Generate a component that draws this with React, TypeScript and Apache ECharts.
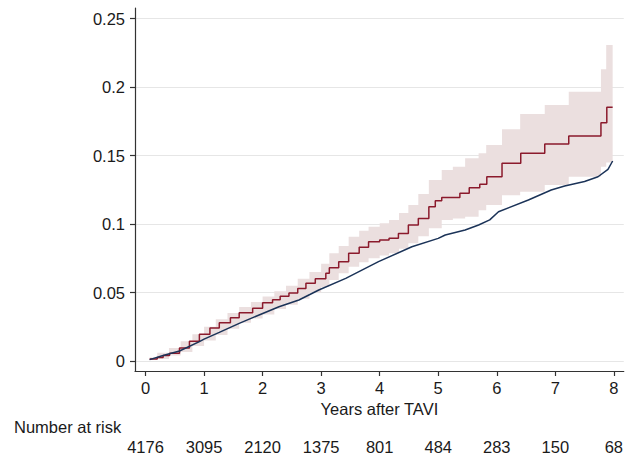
import React, { useEffect, useRef } from "react";
import * as echarts from "echarts";

// X-axis ticks (years) and number at risk
const yearTicks = [0, 1, 2, 3, 4, 5, 6, 7, 8];
const numberAtRisk = [4176, 3095, 2120, 1375, 801, 484, 283, 150, 68];
const yTicks = [0, 0.05, 0.1, 0.15, 0.2, 0.25];

// Confidence band (step) for red curve
const bandX = [0.07, 0.2, 0.4, 0.6, 0.8, 1.0, 1.2, 1.4, 1.6, 1.8, 2.0, 2.2, 2.4, 2.6, 2.8, 3.0, 3.14, 3.3, 3.47, 3.65, 3.81, 4.0, 4.16, 4.33, 4.49, 4.66, 4.84, 5.06, 5.25, 5.46, 5.69, 5.82, 6.09, 6.4, 6.82, 7.23, 7.78, 7.87, 7.98];
const bandLower = [0.0008, 0.0015, 0.004, 0.0065, 0.011, 0.015, 0.019, 0.0235, 0.028, 0.031, 0.034, 0.038, 0.041, 0.0455, 0.05, 0.054, 0.0591, 0.064, 0.0688, 0.072, 0.075, 0.077, 0.0786, 0.082, 0.0859, 0.091, 0.0969, 0.1029, 0.104, 0.1053, 0.11, 0.1139, 0.121, 0.1235, 0.1285, 0.1345, 0.1418, 0.145, 0.145];
const bandUpper = [0.0025, 0.006, 0.0095, 0.0145, 0.0195, 0.025, 0.0305, 0.035, 0.0395, 0.043, 0.047, 0.051, 0.055, 0.06, 0.065, 0.071, 0.0786, 0.084, 0.0907, 0.095, 0.098, 0.1005, 0.1029, 0.108, 0.1139, 0.122, 0.1321, 0.1394, 0.1418, 0.148, 0.1516, 0.1577, 0.1692, 0.1803, 0.1869, 0.1966, 0.2129, 0.2307, 0.2307];

// Red curve (step)
const redX = [0.07, 0.2, 0.3, 0.41, 0.58, 0.75, 0.92, 1.1, 1.26, 1.45, 1.6, 1.83, 2.0, 2.17, 2.3, 2.45, 2.6, 2.74, 2.9, 3.08, 3.14, 3.3, 3.47, 3.65, 3.81, 4.0, 4.16, 4.32, 4.49, 4.66, 4.84, 4.95, 5.06, 5.37, 5.53, 5.71, 5.83, 6.09, 6.41, 6.82, 7.23, 7.78, 7.88, 7.98];
const redY = [0.0015, 0.0025, 0.004, 0.0056, 0.0095, 0.0145, 0.0195, 0.024, 0.028, 0.0315, 0.0352, 0.0385, 0.0425, 0.0448, 0.0472, 0.0496, 0.053, 0.0567, 0.06, 0.064, 0.068, 0.0725, 0.0786, 0.083, 0.0871, 0.0883, 0.0896, 0.093, 0.0993, 0.104, 0.1126, 0.117, 0.1194, 0.1224, 0.1265, 0.129, 0.1345, 0.1443, 0.1516, 0.1584, 0.1642, 0.174, 0.1852, 0.1852];

// Blue curve
const blueX = [0.07, 0.3, 0.58, 0.92, 1.0, 1.26, 1.6, 1.94, 2.28, 2.62, 2.96, 3.42, 3.98, 4.55, 5.0, 5.12, 5.46, 5.69, 5.88, 6.03, 6.54, 6.93, 7.16, 7.5, 7.73, 7.9, 7.98];
const blueY = [0.001, 0.004, 0.0073, 0.0141, 0.016, 0.0209, 0.0275, 0.0336, 0.0396, 0.0445, 0.0518, 0.0603, 0.0725, 0.0834, 0.0895, 0.092, 0.0956, 0.0993, 0.103, 0.109, 0.1175, 0.1248, 0.1277, 0.131, 0.1345, 0.1399, 0.146];

const FONT = "'Liberation Sans', Arial, Helvetica, sans-serif";
const TEXT = "#1a1a1a";

export default function App() {
  const ref = useRef<HTMLDivElement>(null);
  useEffect(() => {
    if (!ref.current) return;
    const chart = echarts.init(ref.current, undefined, { renderer: "svg" });
    const zip = (xs: number[], ys: number[]) => xs.map((x, i) => [x, ys[i]]);
    const riskMap: Record<number, number> = {};
    yearTicks.forEach((t, i) => (riskMap[t] = numberAtRisk[i]));

    const renderBand = (_params: any, api: any) => {
      const top: number[][] = [];
      const bottom: number[][] = [];
      for (let i = 0; i < bandX.length; i++) {
        const xNext = i < bandX.length - 1 ? bandX[i + 1] : bandX[i];
        top.push(api.coord([bandX[i], bandUpper[i]]));
        top.push(api.coord([xNext, bandUpper[i]]));
        bottom.push(api.coord([bandX[i], bandLower[i]]));
        bottom.push(api.coord([xNext, bandLower[i]]));
      }
      const points = top.concat(bottom.reverse());
      return {
        type: "polygon",
        shape: { points },
        style: { fill: "#ebdfdf", stroke: "none" },
        silent: true,
      };
    };

    chart.setOption({
      animation: false,
      backgroundColor: "#ffffff",
      grid: { left: 135, right: 0, top: 8, bottom: 85, containLabel: false },
      xAxis: [
        {
          type: "value",
          min: -0.18,
          max: 8.17,
          name: "Years after TAVI",
          nameLocation: "middle",
          nameGap: 26,
          nameTextStyle: { fontFamily: FONT, fontSize: 16.5, color: TEXT },
          axisLine: { show: true, onZero: false, lineStyle: { color: "#333", width: 1.2 } },
          axisTick: { show: true, length: 5, customValues: yearTicks, lineStyle: { color: "#333", width: 1.2 } },
          axisLabel: { customValues: yearTicks, margin: 8, fontFamily: FONT, fontSize: 16.5, color: TEXT },
          splitLine: { show: false },
        },
        {
          type: "value",
          gridIndex: 0,
          position: "bottom",
          offset: 59,
          min: -0.18,
          max: 8.17,
          axisLine: { show: false },
          axisTick: { show: false, customValues: yearTicks },
          axisLabel: {
            customValues: yearTicks,
            margin: 8,
            fontFamily: FONT,
            fontSize: 16.5,
            color: TEXT,
            formatter: (v: number) => String(riskMap[Math.round(v)] ?? ""),
          },
          splitLine: { show: false },
        },
      ],
      yAxis: {
        type: "value",
        min: -0.0073,
        max: 0.2577,
        axisLine: { show: true, onZero: false, lineStyle: { color: "#333", width: 1.2 } },
        axisTick: { show: true, length: 5, customValues: yTicks, lineStyle: { color: "#333", width: 1.2 } },
        axisLabel: {
          customValues: yTicks,
          margin: 10,
          fontFamily: FONT,
          fontSize: 16.5,
          color: TEXT,
          formatter: (v: number) => String(Number(v.toFixed(2))),
        },
        splitLine: { show: true, lineStyle: { color: "#e6e6e6", width: 1 } },
      },
      graphic: [
        {
          type: "text",
          left: 14,
          top: 418,
          style: { text: "Number at risk", fontFamily: FONT, fontSize: 16.5, fill: TEXT },
        },
      ],
      series: [
        {
          type: "custom",
          coordinateSystem: "cartesian2d",
          renderItem: renderBand,
          data: [[bandX[0], bandLower[0]]],
          silent: true,
          z: 1,
        },
        {
          type: "line",
          step: "end",
          symbol: "none",
          data: zip(redX, redY),
          lineStyle: { color: "#8b1a2c", width: 1.5 },
          z: 3,
        },
        {
          type: "line",
          symbol: "none",
          data: zip(blueX, blueY),
          lineStyle: { color: "#1b3358", width: 1.5 },
          z: 4,
        },
      ],
    });
    return () => chart.dispose();
  }, []);
  return (
    <div
      ref={ref}
      style={{ position: "fixed", left: 0, top: 0, width: 626, height: 456, background: "#fff" }}
    />
  );
}
